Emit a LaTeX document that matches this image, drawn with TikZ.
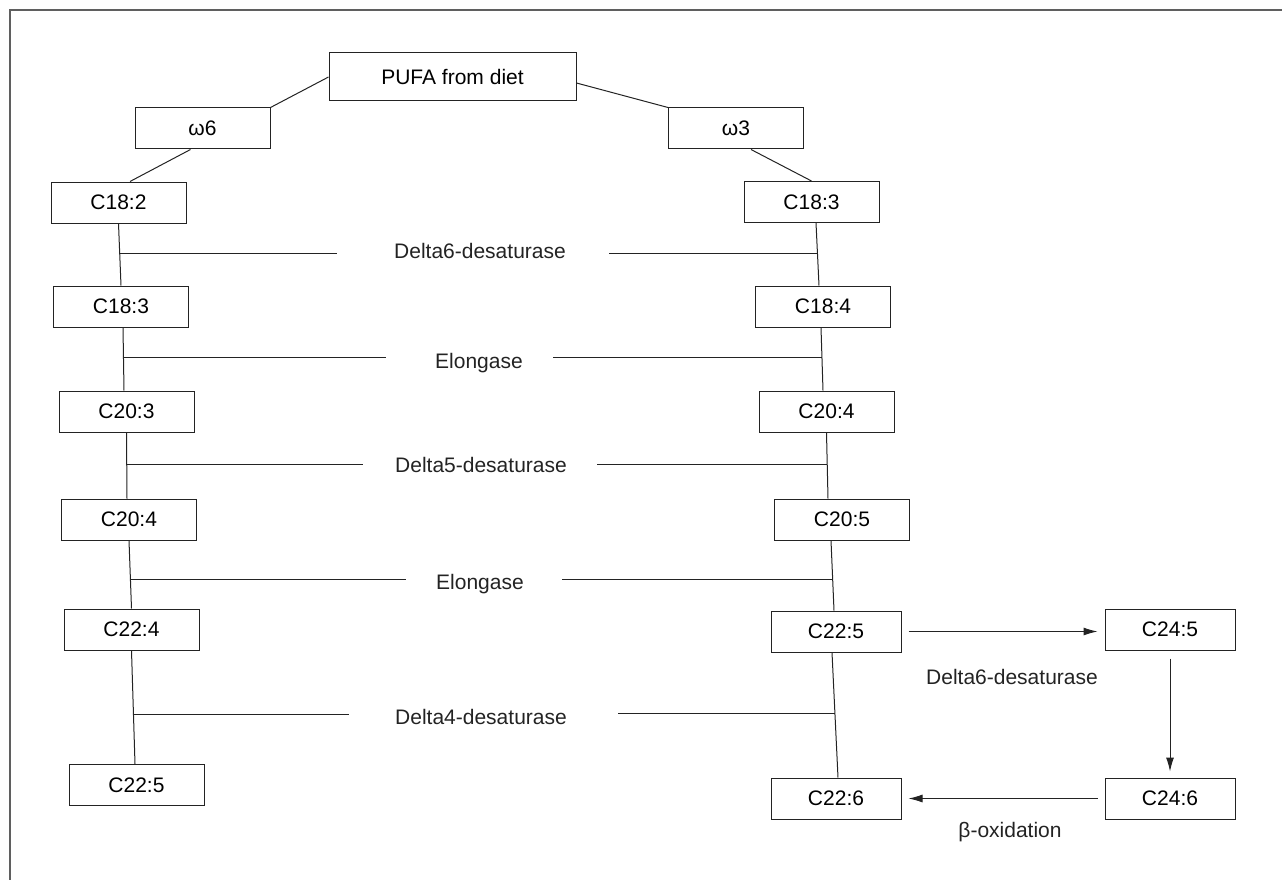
\documentclass[tikz,border=0pt]{standalone}
\usepackage{fontspec}
\setmainfont{Liberation Sans}
\usetikzlibrary{arrows.meta}
\definecolor{framegray}{RGB}{95, 95, 95}
\definecolor{inkgray}{RGB}{35, 35, 35}

\begin{document}
\begin{tikzpicture}[x=1pt, y=-1pt, >=Latex,
    box/.style={draw=inkgray, line width=1pt, minimum width=135pt, minimum height=41pt,
      inner sep=0pt, font=\fontsize{21}{25}\selectfont},
    narrow/.style={box, minimum width=130pt},
    enz/.style={anchor=base, inner sep=0pt, text=inkgray, font=\fontsize{21}{25}\selectfont},
    link/.style={draw=inkgray, line width=1pt},
    flow/.style={link, -{Latex[length=14pt, width=8pt]}, shorten <=7pt, shorten >=7pt}]
  \useasboundingbox (0,0) rectangle (1282,880);
  \draw[framegray, line width=2pt] (10,880) -- (10,10) -- (1282,10);

  % source and the two families
  \node[box, minimum width=247pt, minimum height=48pt] (pufa) at (452.5,77) {PUFA from diet};
  \node[box] (w6) at (202.5,128.5) {ω6};
  \node[box] (w3) at (736,128.5) {ω3};

  % omega-6 column
  \node[box] (l182) at (118.5,202.5) {C18:2};
  \node[box] (l183) at (121,306.5) {C18:3};
  \node[box] (l203) at (126.5,411.5) {C20:3};
  \node[box] (l204) at (129,519.5) {C20:4};
  \node[box] (l224) at (131.5,629.5) {C22:4};
  \node[box] (l225) at (136.5,785) {C22:5};

  % omega-3 column
  \node[box] (r183) at (811.5,202) {C18:3};
  \node[box] (r184) at (823,306.5) {C18:4};
  \node[box] (r204) at (826.5,411.5) {C20:4};
  \node[box] (r205) at (842,519.5) {C20:5};
  \node[narrow] (r225) at (836,631.5) {C22:5};
  \node[narrow] (r226) at (836,798.5) {C22:6};
  \node[narrow] (r245) at (1170,629.5) {C24:5};
  \node[narrow] (r246) at (1170,798.5) {C24:6};

  \draw[link] (pufa.west) -- (w6.north east);
  \draw[link] ([yshift=-6pt]pufa.east) -- (w3.north west);
  \draw[link] ([xshift=-12pt]w6.south) -- ([xshift=11.5pt]l182.north);
  \draw[link] ([xshift=15pt]w3.south) -- (r183.north);

  \draw[link] (l182.south) -- coordinate[pos=0.48] (jl1) (l183.north);
  \draw[link] ([xshift=2pt]l183.south) -- coordinate[pos=0.48] (jl2) ([xshift=-2.5pt]l203.north);
  \draw[link] (l203.south) -- coordinate[pos=0.48] (jl3) ([xshift=-2pt]l204.north);
  \draw[link] (l204.south) -- coordinate[pos=0.58] (jl4) (l224.north);
  \draw[link] (l224.south) -- coordinate[pos=0.56] (jl5) ([xshift=-1.5pt]l225.north);

  \draw[link] ([xshift=4.5pt]r183.south) -- coordinate[pos=0.49] (jr1) ([xshift=-4pt]r184.north);
  \draw[link] ([xshift=-2pt]r184.south) -- coordinate[pos=0.48] (jr2) ([xshift=-3.5pt]r204.north);
  \draw[link] (r204.south) -- coordinate[pos=0.48] (jr3) ([xshift=-14pt]r205.north);
  \draw[link] ([xshift=-11pt]r205.south) -- coordinate[pos=0.56] (jr4) ([xshift=-2pt]r225.north);
  \draw[link] ([xshift=-4pt]r225.south) -- coordinate[pos=0.49] (jr5) ([xshift=2pt]r226.north);

  % enzymes between the columns
  \node[enz] (e1) at (480,258) {Delta6-desaturase};
  \node[enz] (e2) at (479,368) {Elongase};
  \node[enz] (e3) at (481,472) {Delta5-desaturase};
  \node[enz] (e4) at (480,589) {Elongase};
  \node[enz] (e5) at (481,724) {Delta4-desaturase};
  \coordinate (e1l) at (337,254);  \coordinate (e1r) at (609,254);
  \coordinate (e2l) at (386,358);  \coordinate (e2r) at (553,358);
  \coordinate (e3l) at (363,464);  \coordinate (e3r) at (597,464);
  \coordinate (e4l) at (406,580);  \coordinate (e4r) at (562,580);
  \coordinate (e5l) at (349,714);  \coordinate (e5r) at (618,714);
  \draw[link] (jl1) -- (jl1 -| e1l);  \draw[link] (jr1 -| e1r) -- (jr1);
  \draw[link] (jl2) -- (jl2 -| e2l);  \draw[link] (jr2 -| e2r) -- (jr2);
  \draw[link] (jl3) -- (jl3 -| e3l);  \draw[link] (jr3 -| e3r) -- (jr3);
  \draw[link] (jl4) -- (jl4 -| e4l);  \draw[link] (jr4 -| e4r) -- (jr4);
  \draw[link] (jl5) -- (jl5 -| e5l);  \draw[link] (jr5 -| e5r) -- (jr5);

  % side loop to C22:6
  \draw[flow] (r225.east) -- (r225.east -| r245.west);
  \draw[flow, shorten >=6pt, shorten <=8pt] (r245.south) -- (r246.north);
  \draw[flow] (r246.west) -- (r246.west -| r226.east);
  \node[enz] (d6side) at (1012,684) {Delta6-desaturase};
  \node[enz] (betaox) at (1010,837) {β-oxidation};
\end{tikzpicture}
\end{document}
